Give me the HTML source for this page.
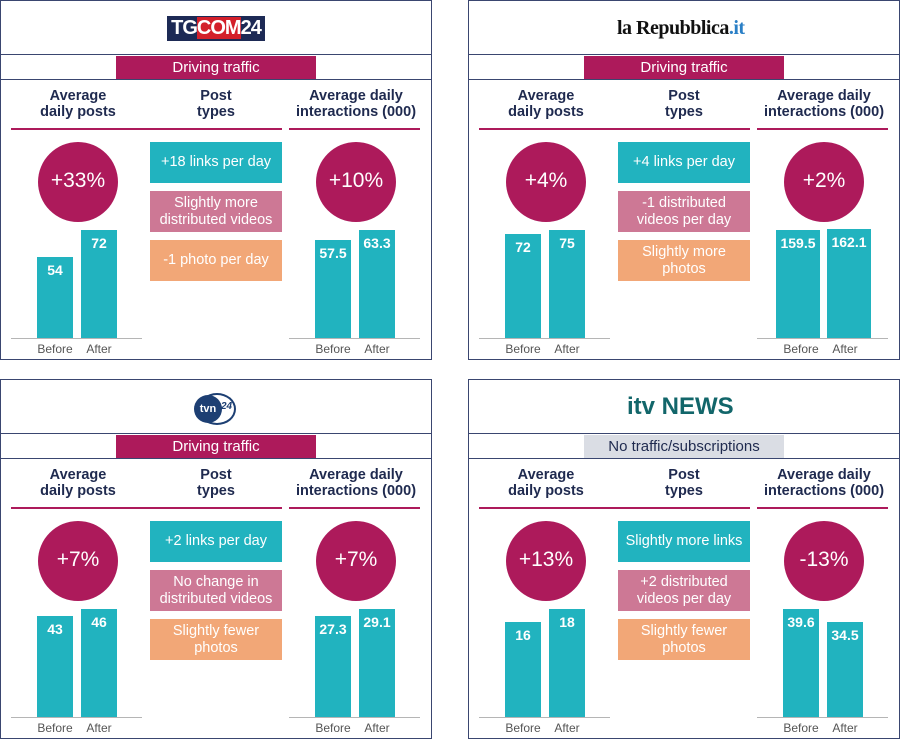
<!DOCTYPE html>
<html><head><meta charset="utf-8"><style>
*{margin:0;padding:0;box-sizing:border-box}
body{width:900px;height:739px;background:#fff;position:relative;overflow:hidden;font-family:"Liberation Sans",sans-serif}
.p{position:absolute;width:432px;height:360px;border:1.5px solid #3a4670}
.p>div{position:absolute}
.l1{left:0;right:0;top:53px;height:0;border-top:1.5px solid #3a4670}
.l2{left:0;right:0;top:78px;height:0;border-top:1.5px solid #3a4670}
.band{left:115px;width:200px;top:55px;height:23px;background:#ad1a5b;color:#fff;font-size:15px;text-align:center;line-height:23px}
.band.g{background:#dadde4;color:#1f2a4f}
.h{top:87px;width:140px;text-align:center;color:#1f2a4f;font-weight:bold;font-size:14.5px;line-height:16px}
.ul{top:127px;height:2px;background:#ad1a5b}
.c{top:141px;width:80px;height:80px;border-radius:50%;background:#ad1a5b;color:#fff;font-size:21px;text-align:center;line-height:78px}
.b{left:149px;width:132px;height:41px;color:#fff;font-size:14.5px;text-align:center;display:flex;align-items:center;justify-content:center;line-height:17px}
.t{background:#21b3bf}.m{background:#cd7895}.o{background:#f2a777}
.bar{width:36px;background:#21b3bf;color:#fff;font-weight:bold;font-size:14px;text-align:center;padding-top:5px}
.base{top:337px;height:1px;background:#b5b5b5;width:131px}
.lab{top:341px;width:44px;text-align:center;font-size:12px;color:#555}
</style></head><body>

<!-- Panel 1 -->
<div class="p" style="left:0;top:0">
<div style="left:166px;top:15px;width:98px;height:25px;background:#1d2a55;color:#fff;font-weight:bold;font-size:20px;line-height:25px;text-align:center;letter-spacing:-1px"><span>TG</span><span style="background:#d3202a">COM</span>24</div>
<div class="l1"></div><div class="band">Driving traffic</div><div class="l2"></div>
<div class="h" style="left:7px">Average<br>daily posts</div>
<div class="h" style="left:145px">Post<br>types</div>
<div class="h" style="left:285px">Average daily<br>interactions (000)</div>
<div class="ul" style="left:10px;width:271px"></div><div class="ul" style="left:288px;width:131px"></div>
<div class="c" style="left:37px">+33%</div><div class="c" style="left:315px">+10%</div>
<div class="b t" style="top:141px">+18 links per day</div>
<div class="b m" style="top:190px">Slightly more<br>distributed videos</div>
<div class="b o" style="top:239px">-1 photo per day</div>
<div class="bar" style="left:36px;top:256px;height:81px">54</div>
<div class="bar" style="left:80px;top:229px;height:108px">72</div>
<div class="bar" style="left:314px;top:239px;height:98px">57.5</div>
<div class="bar" style="left:358px;top:229px;height:108px">63.3</div>
<div class="base" style="left:10px"></div><div class="base" style="left:288px"></div>
<div class="lab" style="left:32px">Before</div><div class="lab" style="left:76px">After</div>
<div class="lab" style="left:310px">Before</div><div class="lab" style="left:354px">After</div>
</div>

<!-- Panel 2 -->
<div class="p" style="left:468px;top:0">
<div style="left:148px;top:13px;width:140px;height:28px;font-family:'Liberation Serif',serif;font-weight:bold;font-size:20px;color:#111;line-height:28px;letter-spacing:-0.5px">la Repubblica<span style="color:#2a7fc6">.it</span></div>
<div class="l1"></div><div class="band">Driving traffic</div><div class="l2"></div>
<div class="h" style="left:7px">Average<br>daily posts</div>
<div class="h" style="left:145px">Post<br>types</div>
<div class="h" style="left:285px">Average daily<br>interactions (000)</div>
<div class="ul" style="left:10px;width:271px"></div><div class="ul" style="left:288px;width:131px"></div>
<div class="c" style="left:37px">+4%</div><div class="c" style="left:315px">+2%</div>
<div class="b t" style="top:141px">+4 links per day</div>
<div class="b m" style="top:190px">-1 distributed<br>videos per day</div>
<div class="b o" style="top:239px">Slightly more<br>photos</div>
<div class="bar" style="left:36px;top:233px;height:104px">72</div>
<div class="bar" style="left:80px;top:229px;height:108px">75</div>
<div class="bar" style="left:307px;top:229px;height:108px;width:44px">159.5</div>
<div class="bar" style="left:358px;top:228px;height:109px;width:44px">162.1</div>
<div class="base" style="left:10px"></div><div class="base" style="left:288px"></div>
<div class="lab" style="left:32px">Before</div><div class="lab" style="left:76px">After</div>
<div class="lab" style="left:310px">Before</div><div class="lab" style="left:354px">After</div>
</div>

<!-- Panel 3 -->
<div class="p" style="left:0;top:379px">
<div style="left:193px;top:13px;width:44px;height:32px;">
<div style="position:absolute;left:0;top:2px;width:28px;height:28px;border-radius:50%;background:#1d3f73;color:#fff;font-weight:bold;font-size:11px;line-height:28px;text-align:center">tvn</div>
<div style="position:absolute;left:4px;top:0;width:38px;height:32px;border-radius:50%;border:2px solid #1d3f73;border-left-color:transparent"></div>
<div style="position:absolute;left:27px;top:8px;font-size:10px;font-weight:bold;color:#1d3f73;font-style:italic">24</div></div>
<div class="l1"></div><div class="band">Driving traffic</div><div class="l2"></div>
<div class="h" style="left:7px">Average<br>daily posts</div>
<div class="h" style="left:145px">Post<br>types</div>
<div class="h" style="left:285px">Average daily<br>interactions (000)</div>
<div class="ul" style="left:10px;width:271px"></div><div class="ul" style="left:288px;width:131px"></div>
<div class="c" style="left:37px">+7%</div><div class="c" style="left:315px">+7%</div>
<div class="b t" style="top:141px">+2 links per day</div>
<div class="b m" style="top:190px">No change in<br>distributed videos</div>
<div class="b o" style="top:239px">Slightly fewer<br>photos</div>
<div class="bar" style="left:36px;top:236px;height:101px">43</div>
<div class="bar" style="left:80px;top:229px;height:108px">46</div>
<div class="bar" style="left:314px;top:236px;height:101px">27.3</div>
<div class="bar" style="left:358px;top:229px;height:108px">29.1</div>
<div class="base" style="left:10px"></div><div class="base" style="left:288px"></div>
<div class="lab" style="left:32px">Before</div><div class="lab" style="left:76px">After</div>
<div class="lab" style="left:310px">Before</div><div class="lab" style="left:354px">After</div>
</div>

<!-- Panel 4 -->
<div class="p" style="left:468px;top:379px">
<div style="left:158px;top:12px;width:130px;height:30px;color:#12666a;font-weight:bold;font-size:24px;line-height:30px;white-space:nowrap">itv NEWS</div>
<div class="l1"></div><div class="band g">No traffic/subscriptions</div><div class="l2"></div>
<div class="h" style="left:7px">Average<br>daily posts</div>
<div class="h" style="left:145px">Post<br>types</div>
<div class="h" style="left:285px">Average daily<br>interactions (000)</div>
<div class="ul" style="left:10px;width:271px"></div><div class="ul" style="left:288px;width:131px"></div>
<div class="c" style="left:37px">+13%</div><div class="c" style="left:315px">-13%</div>
<div class="b t" style="top:141px">Slightly more links</div>
<div class="b m" style="top:190px">+2 distributed<br>videos per day</div>
<div class="b o" style="top:239px">Slightly fewer<br>photos</div>
<div class="bar" style="left:36px;top:242px;height:95px">16</div>
<div class="bar" style="left:80px;top:229px;height:108px">18</div>
<div class="bar" style="left:314px;top:229px;height:108px">39.6</div>
<div class="bar" style="left:358px;top:242px;height:95px">34.5</div>
<div class="base" style="left:10px"></div><div class="base" style="left:288px"></div>
<div class="lab" style="left:32px">Before</div><div class="lab" style="left:76px">After</div>
<div class="lab" style="left:310px">Before</div><div class="lab" style="left:354px">After</div>
</div>
</body></html>
